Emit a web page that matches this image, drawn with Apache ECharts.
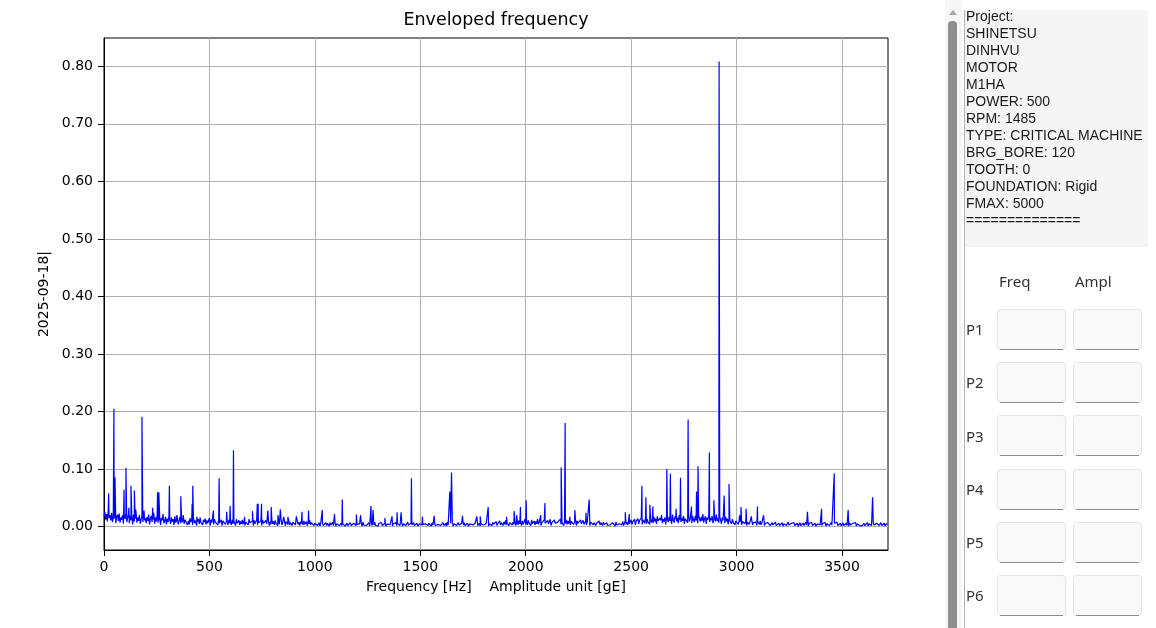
<!DOCTYPE html>
<html>
<head>
<meta charset="utf-8">
<script src="https://cdn.jsdelivr.net/npm/echarts@6/dist/echarts.min.js"></script>
<style>
  html, body { margin: 0; padding: 0; background: #ffffff; }
  #chart { width: 1156px; height: 628px; }
</style>
</head>
<body>
<div id="chart"></div>
<script>
// ---- Spectrum data -------------------------------------------------------
// Noise floor of the envelope spectrum, one value every 4 Hz, in milli-gE.
const floorStepHz = 4;
const noiseFloor = [
  // 0 - 196 Hz
  18,26,12,22,9,27,15,20,11,24, 8,19,14,25,6,17,21,10,23,7, 16,12,20,5,18,13,24,8,15,22, 6,19,11,17,4,21,9,14,25,7, 16,10,20,5,13,18,8,22,11,15,
  // 200 - 396 Hz
  6,17,10,21,4,14,19,8,12,24, 5,16,9,20,7,13,18,3,15,11, 22,6,10,17,4,14,8,19,12,5, 16,9,13,3,18,7,11,15,4,10, 17,6,13,8,20,5,12,9,14,3,
  // 400 - 596 Hz
  10,4,15,8,12,3,17,6,11,14, 2,9,13,5,16,7,10,3,12,8, 14,4,11,6,9,15,2,12,7,10, 4,13,8,5,11,3,14,6,9,12, 2,10,7,13,4,8,11,3,12,6,
  // 600 - 796 Hz
  9,3,12,5,10,7,2,13,6,8, 11,3,9,5,12,4,10,2,8,11, 6,3,13,7,9,4,10,2,11,5, 8,12,3,7,10,4,9,2,12,6, 8,3,11,5,7,10,2,9,4,12,
  // 800 - 996 Hz
  5,9,3,11,6,8,2,10,4,7, 12,3,8,5,10,2,9,6,4,11, 3,7,9,2,8,5,10,3,6,11, 4,8,2,9,5,7,3,10,4,6, 9,2,8,5,11,3,7,4,9,2,
  // 1000 - 1196 Hz
  6,3,8,2,5,7,1,6,4,8, 2,5,3,7,2,6,4,1,7,3, 5,8,2,4,6,1,5,3,7,2, 4,6,2,5,3,8,1,4,6,2, 5,3,7,2,4,1,6,3,5,2,
  // 1200 - 1396 Hz
  4,7,2,5,3,6,1,8,3,4, 6,2,5,3,7,1,4,6,2,5, 3,8,2,4,5,1,6,3,4,7, 2,5,3,6,1,4,5,2,7,3, 4,6,1,5,3,4,7,2,5,3,
  // 1400 - 1596 Hz
  6,2,4,7,1,5,3,6,2,4, 8,3,5,1,6,3,4,7,2,5, 3,6,1,4,5,2,7,3,4,6, 1,5,3,4,2,6,3,5,1,7, 3,4,6,2,5,1,4,3,6,2,
  // 1600 - 1796 Hz
  5,3,7,2,4,6,1,8,3,5, 2,6,4,7,1,5,3,6,2,4, 7,3,5,1,6,4,3,7,2,5, 3,6,1,4,5,2,7,3,4,1, 6,3,5,2,4,6,1,5,3,4,
  // 1800 - 1996 Hz
  3,6,2,5,4,7,1,5,3,6, 2,8,4,5,3,9,2,6,4,10, 3,7,5,2,8,4,11,3,6,9, 2,7,5,10,3,8,4,12,2,6, 9,3,11,5,7,2,10,4,8,13,
  // 2000 - 2196 Hz
  4,9,3,11,6,8,2,12,5,7, 10,3,9,5,13,4,8,11,2,7, 10,4,12,6,9,3,11,5,8,13, 2,7,10,4,12,6,9,3,8,11, 5,13,4,7,10,2,9,6,12,4,
  // 2200 - 2396 Hz
  10,5,12,3,9,7,11,4,8,13, 2,10,6,9,3,12,5,8,11,4, 7,10,3,9,6,12,2,8,5,10, 3,7,9,2,6,8,4,10,3,7, 5,2,8,4,6,3,7,2,5,4,
  // 2400 - 2596 Hz
  3,6,2,7,4,5,1,8,3,6, 2,5,4,7,3,9,2,6,10,4, 8,3,11,5,7,12,4,9,6,13, 3,10,7,14,5,11,8,15,4,12, 9,6,16,5,13,8,11,4,14,7,
  // 2600 - 2796 Hz
  12,6,17,9,14,5,18,10,7,15, 11,20,6,13,9,16,4,19,12,8, 17,10,14,5,21,11,7,18,13,9, 16,6,20,12,8,15,10,19,5,14, 11,17,7,22,9,13,16,6,18,12,
  // 2800 - 2996 Hz
  8,19,11,15,6,21,13,9,17,10, 22,7,14,18,5,16,12,20,8,15, 11,19,6,13,17,9,21,10,14,7, 18,12,5,16,11,13,6,17,9,14, 4,15,10,12,5,13,8,11,3,10,
  // 3000 - 3196 Hz
  7,12,4,10,8,13,3,9,6,11, 5,12,2,8,10,4,9,6,11,3, 7,10,5,8,2,9,6,4,10,3, 7,5,8,2,6,9,3,7,4,8, 2,5,7,3,6,4,8,2,5,3,
  // 3200 - 3396 Hz
  6,2,5,4,7,1,5,3,6,2, 4,8,3,5,1,6,4,3,7,2, 5,3,6,1,4,7,2,5,3,6, 2,4,8,3,5,1,6,3,4,7, 2,5,3,6,1,4,5,2,7,3,
  // 3400 - 3596 Hz
  5,2,6,3,4,7,1,5,3,6, 2,4,7,3,5,1,6,3,4,8, 2,5,3,6,1,4,7,2,5,3, 6,2,4,1,7,3,5,2,6,4, 3,7,1,5,3,6,2,4,5,2,
  // 3600 - 3716 Hz
  4,6,2,5,3,7,1,5,3,6, 2,4,7,3,5,1,6,3,4,2, 5,7,2,4,3,6,1,5,3,4
];

// Discrete spectral lines: frequency [Hz] and amplitude [gE].
const peakFreq = [
  22,47,52,95,104,118,128,144,150,180,190,231,254,260,310,345,364,418,421,440,
  519,546,582,598,614,667,704,727,731,747,777,793,825,836,852,872,912,939,970,
  1035,1093,1130,1197,1217,1266,1276,1332,1366,1390,1409,1458,1510,1566,1640,1648,
  1700,1768,1784,1822,1909,1945,1957,1975,2002,2071,2091,2168,2187,2209,2233,2286,
  2301,2472,2491,2551,2570,2589,2603,2669,2686,2713,2734,2770,2786,2810,2817,2871,
  2892,2917,2941,2964,3014,3021,3045,3070,3099,3128,3336,3403,3463,3529,3645
];
const peakAmp = [
  0.058,0.205,0.086,0.064,0.102,0.033,0.071,0.063,0.030,0.191,0.028,0.033,0.060,0.060,0.071,0.020,0.053,0.040,0.071,0.017,
  0.028,0.084,0.026,0.036,0.133,0.017,0.027,0.040,0.040,0.040,0.028,0.034,0.020,0.030,0.017,0.017,0.018,0.026,0.028,
  0.029,0.022,0.047,0.021,0.020,0.036,0.029,0.015,0.018,0.025,0.025,0.084,0.017,0.019,0.061,0.094,
  0.019,0.018,0.018,0.034,0.017,0.027,0.020,0.034,0.046,0.020,0.041,0.103,0.180,0.017,0.029,0.024,
  0.047,0.025,0.022,0.071,0.051,0.038,0.035,0.100,0.092,0.031,0.085,0.186,0.035,0.061,0.105,0.129,
  0.046,0.808,0.054,0.074,0.020,0.034,0.031,0.018,0.035,0.020,0.026,0.031,0.093,0.029,0.051
];

// Axis ranges and tick labels.
const freqMax = 3718;
const ampMin = -0.0405;
const ampMax = 0.849;
const xTicks = [0, 500, 1000, 1500, 2000, 2500, 3000, 3500];
const yTicks = [0, 0.1, 0.2, 0.3, 0.4, 0.5, 0.6, 0.7, 0.8];

// ---- Side panel content --------------------------------------------------
const infoLines = [
  'Project:', 'SHINETSU', 'DINHVU', 'MOTOR', 'M1HA', 'POWER: 500', 'RPM: 1485',
  'TYPE: CRITICAL MACHINE', 'BRG_BORE: 120', 'TOOTH: 0', 'FOUNDATION: Rigid',
  'FMAX: 5000', '=============='
];
const peakColumns = ['Freq', 'Ampl'];
const peakRows = ['P1', 'P2', 'P3', 'P4', 'P5', 'P6'];

// ---- Build the trace -----------------------------------------------------
const trace = noiseFloor.map((v, i) => [i * floorStepHz, v / 1000]);
peakFreq.forEach((f, i) => trace.push([f, peakAmp[i]]));
trace.sort((a, b) => a[0] - b[0]);

// ---- Side panel graphics -------------------------------------------------
const panel = [];
// scrollbar
panel.push({ type: 'rect', shape: { x: 945, y: 0, width: 17, height: 628 }, style: { fill: '#f6f6f6' }, silent: true });
panel.push({ type: 'polygon', shape: { points: [[949, 15], [953, 10], [957, 15]] }, style: { fill: '#a8a8a8' }, silent: true });
panel.push({ type: 'rect', shape: { x: 948, y: 21, width: 9, height: 620, r: 4 }, style: { fill: '#8e8e8e' }, silent: true });
panel.push({ type: 'line', shape: { x1: 964.5, y1: 10, x2: 964.5, y2: 628 }, style: { stroke: '#b4b4b4', lineWidth: 1 }, silent: true });
// project info box
panel.push({ type: 'rect', shape: { x: 965, y: 10, width: 183, height: 237 }, style: { fill: '#f5f5f5' }, silent: true });
panel.push({
  type: 'text', x: 966, y: 9, silent: true,
  style: { text: infoLines.join('\n'), font: '14px "Liberation Sans", Arial, sans-serif', fill: '#1a1a1a', lineHeight: 17, verticalAlign: 'top' }
});
// peak table
const colX = [997, 1073];
const boxW = 68, boxH = 40;
peakColumns.forEach((c, j) => {
  panel.push({ type: 'text', x: colX[j] + 2, y: 283, silent: true,
    style: { text: c, font: '15px "Noto Sans", sans-serif', fill: '#333', verticalAlign: 'middle' } });
});
peakRows.forEach((p, i) => {
  const top = 309 + i * 53.2;
  panel.push({ type: 'text', x: 966, y: top + 22, silent: true,
    style: { text: p, font: '15px "Noto Sans", sans-serif', fill: '#333', verticalAlign: 'middle' } });
  colX.forEach(x => {
    panel.push({ type: 'rect', shape: { x: x + 0.5, y: Math.round(top) + 0.5, width: boxW, height: boxH, r: 3 },
      style: { fill: '#f9f9f9', stroke: '#e4e4e4', lineWidth: 1 }, silent: true });
    panel.push({ type: 'line', shape: { x1: x + 3, y1: Math.round(top) + boxH + 0.5, x2: x + boxW - 2, y2: Math.round(top) + boxH + 0.5 },
      style: { stroke: '#8c8c8c', lineWidth: 1 }, silent: true });
  });
});

// ---- Chart ---------------------------------------------------------------
const tickFont = { fontFamily: '"DejaVu Sans", sans-serif', fontSize: 14, color: '#000' };
const chart = echarts.init(document.getElementById('chart'), null, { renderer: 'canvas' });
chart.setOption({
  animation: false,
  backgroundColor: '#ffffff',
  title: {
    text: 'Enveloped frequency', left: 496, top: 11, textAlign: 'center', padding: 0,
    textStyle: { fontFamily: '"DejaVu Sans", sans-serif', fontSize: 17.5, fontWeight: 'normal', color: '#000' }
  },
  grid: { left: 104, top: 38, width: 784, height: 512, show: true, borderColor: '#000', borderWidth: 1, backgroundColor: 'transparent' },
  xAxis: {
    type: 'value', min: 0, max: freqMax, interval: 500,
    name: 'Frequency [Hz]    Amplitude unit [gE]', nameLocation: 'middle', nameGap: 30,
    nameTextStyle: tickFont,
    axisLine: { show: true, onZero: false, lineStyle: { color: '#000', width: 1 } },
    axisTick: { show: true, inside: false, length: 6, customValues: xTicks, lineStyle: { color: '#000' } },
    axisLabel: { show: true, margin: 10, customValues: xTicks, ...tickFont, formatter: v => String(v) },
    splitLine: { show: true, lineStyle: { color: '#b0b0b0', width: 1 } }
  },
  yAxis: {
    type: 'value', min: ampMin, max: ampMax, splitNumber: 9,
    name: '2025-09-18|', nameLocation: 'middle', nameGap: 40, nameRotate: 90,
    nameTextStyle: tickFont,
    axisLine: { show: true, onZero: false, lineStyle: { color: '#000', width: 1 } },
    axisTick: { show: true, inside: false, length: 6, customValues: yTicks, lineStyle: { color: '#000' } },
    axisLabel: { show: true, margin: 11, customValues: yTicks, ...tickFont, formatter: v => v.toFixed(2) },
    splitLine: { show: true, lineStyle: { color: '#b0b0b0', width: 1 } }
  },
  series: [{
    type: 'line', data: trace, showSymbol: false, symbol: 'none', sampling: null,
    lineStyle: { color: '#0000ff', width: 1.2 }, clip: true
  }],
  graphic: panel
});
</script>
</body>
</html>
